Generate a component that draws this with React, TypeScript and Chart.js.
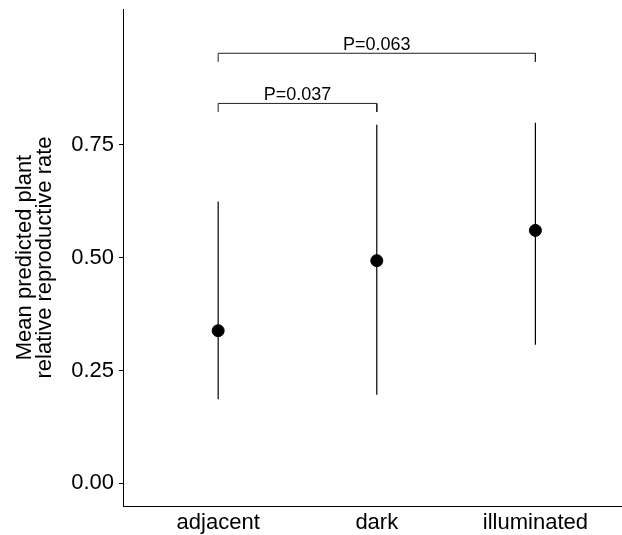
import React, { useEffect, useRef } from "react";
import { Chart, registerables } from "chart.js";

Chart.register(...registerables);

const categories = ["adjacent", "dark", "illuminated"];
const means = [0.338, 0.493, 0.56];
const lower = [0.186, 0.196, 0.307];
const upper = [0.624, 0.794, 0.798];
const yTicks = [0, 0.25, 0.5, 0.75];

const bracketFrom = [0, 0];
const bracketTo = [1, 2];
const bracketY = [0.841, 0.952];
const bracketLeg = [0.019, 0.019];
const bracketLabels = ["P=0.037", "P=0.063"];

const FONT = "'Liberation Sans', Arial, Helvetica, sans-serif";

function zeroPad(s: any) {
  s.paddingLeft = 0;
  s.paddingRight = 0;
  s.paddingTop = 0;
  s.paddingBottom = 0;
}

export default function App() {
  const ref = useRef<HTMLCanvasElement | null>(null);

  useEffect(() => {
    if (!ref.current) return;

    const errorSets = categories.map((_, i) => ({
      type: "line" as const,
      data: [
        { x: i, y: lower[i] },
        { x: i, y: upper[i] },
      ],
      borderColor: "#000",
      borderWidth: 1.2,
      pointRadius: 0,
      order: 2,
    }));

    const bracketSets = bracketFrom.map((f, k) => ({
      type: "line" as const,
      data: [
        { x: f, y: bracketY[k] - bracketLeg[k] },
        { x: f, y: bracketY[k] },
        { x: bracketTo[k], y: bracketY[k] },
        { x: bracketTo[k], y: bracketY[k] - bracketLeg[k] },
      ],
      borderColor: "#222",
      borderWidth: 1,
      pointRadius: 0,
      order: 2,
    }));

    const labelPlugin = {
      id: "bracketLabels",
      afterDatasetsDraw(chart: any) {
        const { ctx, scales } = chart;
        ctx.save();
        ctx.font = `18px ${FONT}`;
        ctx.fillStyle = "#000";
        ctx.textAlign = "center";
        ctx.textBaseline = "alphabetic";
        bracketLabels.forEach((lab, k) => {
          const x = scales.x.getPixelForValue((bracketFrom[k] + bracketTo[k]) / 2);
          const y = scales.y.getPixelForValue(bracketY[k]) - 3;
          ctx.fillText(lab, x, y);
        });
        ctx.restore();
      },
    };

    const chart = new Chart(ref.current, {
      type: "scatter",
      data: {
        datasets: [
          {
            type: "scatter" as const,
            data: means.map((m, i) => ({ x: i, y: m })),
            backgroundColor: "#000",
            borderColor: "#000",
            pointRadius: 6,
            pointHoverRadius: 6,
            order: 0,
          },
          ...errorSets,
          ...bracketSets,
        ] as any,
      },
      options: {
        animation: false,
        responsive: false,
        layout: { autoPadding: false, padding: { top: 9, left: 0, right: 0, bottom: 0 } },
        plugins: { legend: { display: false }, tooltip: { enabled: false } },
        scales: {
          x: {
            type: "linear",
            min: -0.6,
            max: 2.546,
            grid: { display: false, drawTicks: false },
            border: { display: true, color: "#000", width: 1 },
            afterBuildTicks: (s: any) => {
              s.ticks = categories.map((_, i) => ({ value: i }));
            },
            afterFit: (s: any) => {
              s.height = 29;
              zeroPad(s);
            },
            ticks: {
              autoSkip: false,
              maxRotation: 0,
              padding: 4,
              color: "#000",
              font: { family: FONT, size: 22 },
              callback: (v: any) => categories[Math.round(Number(v))] ?? "",
            },
          },
          y: {
            type: "linear",
            min: -0.05,
            max: 1.05,
            grid: { display: true, drawOnChartArea: false, drawTicks: true, tickLength: 4, color: "#000" },
            border: { display: true, color: "#000", width: 1 },
            afterBuildTicks: (s: any) => {
              s.ticks = yTicks.map((v) => ({ value: v }));
            },
            afterFit: (s: any) => {
              s.width = 123;
              zeroPad(s);
            },
            title: {
              display: true,
              text: ["Mean predicted plant", "relative reproductive rate"],
              color: "#000",
              font: { family: FONT, size: 22, lineHeight: 0.95 },
              padding: { top: 14, bottom: 0 },
            },
            ticks: {
              padding: 5,
              color: "#000",
              font: { family: FONT, size: 22 },
              callback: (v: any) => Number(v).toFixed(2),
            },
          },
        },
      },
      plugins: [labelPlugin],
    });

    return () => chart.destroy();
  }, []);

  return (
    <div style={{ position: "fixed", left: 0, top: 0, width: 622, height: 535, background: "#fff" }}>
      <canvas ref={ref} width={622} height={535} />
    </div>
  );
}
